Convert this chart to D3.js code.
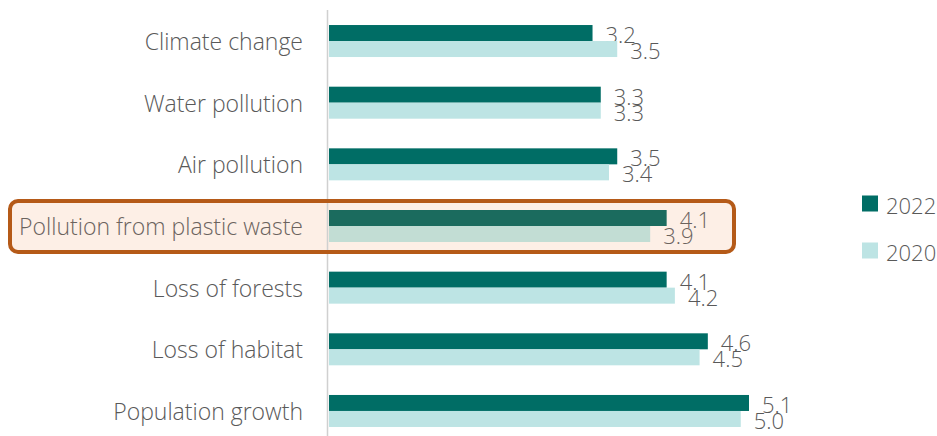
<!DOCTYPE html>
<html>
<head>
<meta charset="utf-8">
<script src="https://cdn.jsdelivr.net/npm/d3@7"></script>
<style>
  html, body { margin: 0; padding: 0; background: #ffffff; }
  svg { display: block; }
  text { font-family: "Open Sans", "Noto Sans", sans-serif; font-weight: 300; }
</style>
</head>
<body>
<svg id="chart" width="937" height="436"></svg>
<script>
const categories = ["Climate change", "Water pollution", "Air pollution", "Pollution from plastic waste", "Loss of forests", "Loss of habitat", "Population growth"];
const values2022 = [3.2, 3.3, 3.5, 4.1, 4.1, 4.6, 5.1];
const values2020 = [3.5, 3.3, 3.4, 3.9, 4.2, 4.5, 5.0];
const seriesNames = ["2022", "2020"];
const highlighted = "Pollution from plastic waste";

const W = 937, H = 436;
const svg = d3.select("#chart");

const colors = { "2022": "#006d65", "2020": "#bde4e4" };
const hiColors = { "2022": "#1b6b5e", "2020": "#c2ddd4" };
const textColor = "#595959";

const y = d3.scaleBand().domain(categories).range([10.2, 441.8]).padding(0);
const x = d3.scaleLinear().domain([0, 5.1]).range([329, 749]);
const barH = 16;

// highlight box background
const hy = y(highlighted) + y.bandwidth() / 2;
svg.append("rect")
  .attr("x", 10).attr("y", hy - 25).attr("width", 724).attr("height", 51)
  .attr("rx", 8).attr("ry", 8)
  .attr("fill", "#fdefe6");

// axis line
svg.append("line")
  .attr("x1", 327.5).attr("x2", 327.5).attr("y1", 10).attr("y2", H)
  .attr("stroke", "#d0d0d0").attr("stroke-width", 1.5);

const rows = categories.map((c, i) => ({ cat: c, v2022: values2022[i], v2020: values2020[i] }));

const g = svg.append("g");
rows.forEach(r => {
  const cy = y(r.cat) + y.bandwidth() / 2;
  const isHi = r.cat === highlighted;
  [["2022", r.v2022, cy - barH], ["2020", r.v2020, cy]].forEach(([s, v, top]) => {
    g.append("rect")
      .attr("x", x(0)).attr("y", top)
      .attr("width", x(v) - x(0)).attr("height", barH)
      .attr("fill", isHi ? hiColors[s] : colors[s]);
    g.append("text")
      .attr("x", x(v) + 13).attr("y", top + barH / 2 + 1)
      .attr("dominant-baseline", "central")
      .attr("font-size", 22)
      .attr("fill", isHi ? "#6b635e" : textColor)
      .text(d3.format(".1f")(v));
  });
  g.append("text")
    .attr("x", 303).attr("y", cy)
    .attr("text-anchor", "end").attr("dominant-baseline", "central")
    .attr("font-size", 23)
    .attr("fill", isHi ? "#6b635e" : textColor)
    .text(r.cat);
});

// highlight border
svg.append("rect")
  .attr("x", 10).attr("y", hy - 25).attr("width", 724).attr("height", 51)
  .attr("rx", 8).attr("ry", 8)
  .attr("fill", "none").attr("stroke", "#b55a18").attr("stroke-width", 4);

// legend
const leg = svg.append("g");
seriesNames.forEach((s, i) => {
  const ly = 203.5 + i * 47;
  leg.append("rect").attr("x", 862).attr("y", ly - 8).attr("width", 16).attr("height", 16)
    .attr("fill", colors[s]);
  leg.append("text").attr("x", 886).attr("y", ly + 1)
    .attr("dominant-baseline", "central").attr("font-size", 22)
    .attr("fill", textColor).text(s);
});
</script>
</body>
</html>
